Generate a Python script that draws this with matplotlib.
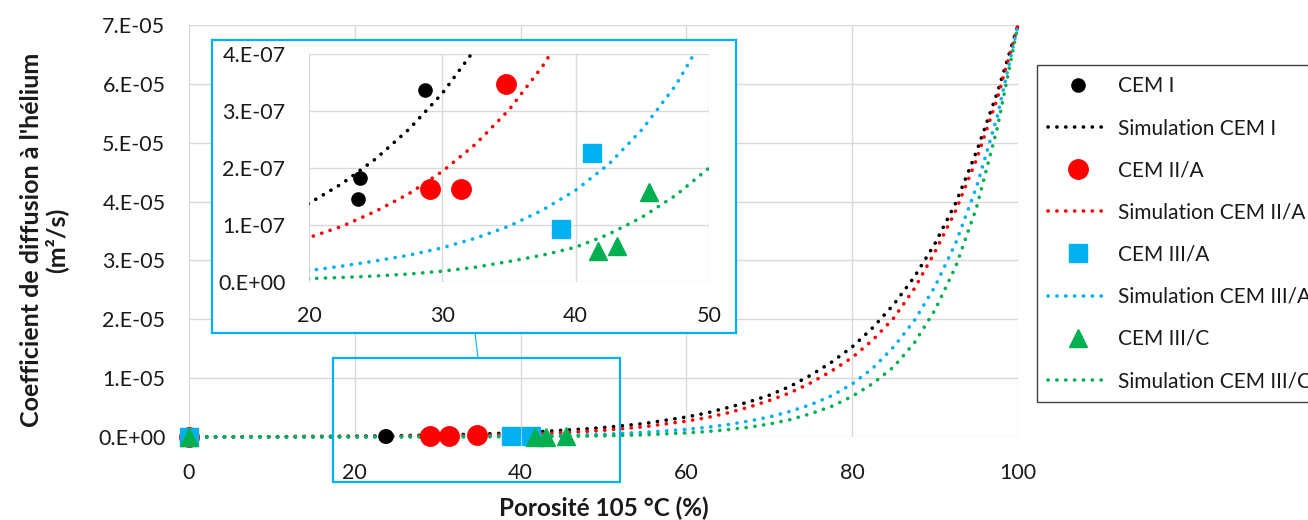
import matplotlib
matplotlib.use("Agg")
import matplotlib.pyplot as plt
from matplotlib.patches import Rectangle
from matplotlib.lines import Line2D

plt.rcParams['font.family'] = ['Lato', 'DejaVu Sans']

# Measured points (porosity %, D in m2/s)
cem1_x = [0, 23.7, 23.8, 28.7]
cem1_y = [0, 1.45e-7, 1.83e-7, 3.37e-7]
cem2a_x = [0, 29.1, 31.4, 34.8]
cem2a_y = [0, 1.63e-7, 1.63e-7, 3.47e-7]
cem3a_x = [0, 38.9, 41.2]
cem3a_y = [0, 0.93e-7, 2.27e-7]
cem3c_x = [0, 41.7, 43.1, 45.5]
cem3c_y = [0, 0.54e-7, 0.63e-7, 1.58e-7]

# Simulation curves (values in 1e-7 m2/s)
sim_x = [0, 10, 20, 22.5, 25, 27.5, 30, 32.5, 35, 37.5, 40, 42.5, 45, 47.5, 50, 55,
         60, 62.5, 65, 67.5, 70, 72.5, 75, 77.5, 80, 82.5, 85, 87.5, 90, 92.5, 95, 97.5, 100]
sim_cem1 = [0.25, 0.6, 1.38, 1.73, 2.16, 2.68, 3.31, 4.1, 5.05, 6.2, 7.7, 9.3, 11.3, 13.5, 16, 23,
            34, 41, 50, 59.5, 71, 86, 105, 127, 153, 186, 225, 272, 329, 398, 485, 585, 700]
sim_cem2a = [0.12, 0.31, 0.78, 0.98, 1.24, 1.55, 1.94, 2.42, 3.02, 3.78, 4.7, 5.85, 7.3, 9.1, 11.3, 17.5,
             27, 33, 41, 50.5, 62, 75, 92, 112, 135, 165, 202, 252, 315, 385, 472, 575, 700]
sim_cem3a = [0.03, 0.08, 0.2, 0.28, 0.37, 0.47, 0.6, 0.77, 0.98, 1.26, 1.61, 2.07, 2.68, 3.45, 4.45, 8.0,
             13, 16.5, 21, 27, 34, 43.5, 55, 70, 90, 117, 153, 198, 256, 330, 425, 545, 700]
sim_cem3c = [0.01, 0.025, 0.06, 0.08, 0.105, 0.14, 0.19, 0.26, 0.36, 0.47, 0.61, 0.84, 1.14, 1.52, 2.0, 3.8,
             7.0, 9.3, 12.5, 16.5, 22, 29.5, 39.5, 52, 69, 91, 119, 160, 216, 290, 390, 525, 700]

labels = ["CEM I", "Simulation CEM I", "CEM II/A", "Simulation CEM II/A",
          "CEM III/A", "Simulation CEM III/A", "CEM III/C", "Simulation CEM III/C"]

main_xticks = [0, 20, 40, 60, 80, 100]
main_yticks = [0, 1e-5, 2e-5, 3e-5, 4e-5, 5e-5, 6e-5, 7e-5]
main_ylabels = ["0.E+00", "1.E-05", "2.E-05", "3.E-05", "4.E-05", "5.E-05", "6.E-05", "7.E-05"]
inset_xticks = [20, 30, 40, 50]
inset_yticks = [0, 1e-7, 2e-7, 3e-7, 4e-7]
inset_ylabels = ["0.E+00", "1.E-07", "2.E-07", "3.E-07", "4.E-07"]

c_black = "#000000"
c_red = "#FF0000"
c_blue = "#00B0F0"
c_green = "#00B050"
grid_c = "#D9D9D9"
txt_c = "#1A1A1A"
dots = (0, (0.05, 2.4))
lw = 2.6

sims = [[v * 1e-7 for v in s] for s in (sim_cem1, sim_cem2a, sim_cem3a, sim_cem3c)]
series = [
    (cem1_x, cem1_y, sims[0], c_black, "o", 9.5),
    (cem2a_x, cem2a_y, sims[1], c_red, "o", 14),
    (cem3a_x, cem3a_y, sims[2], c_blue, "s", 13),
    (cem3c_x, cem3c_y, sims[3], c_green, "^", 12.5),
]

W, H = 1308, 520
fig = plt.figure(figsize=(13.08, 5.2), dpi=100)


def style_axes(ax, xticks, yticks, ylabels, xpad, ypad):
    for s in ax.spines.values():
        s.set_visible(False)
    ax.set_xticks(xticks)
    ax.set_yticks(yticks)
    ax.set_yticklabels(ylabels)
    ax.tick_params(length=0, labelsize=15.5, colors=txt_c)
    ax.tick_params(axis="x", pad=xpad)
    ax.tick_params(axis="y", pad=ypad)
    ax.grid(True, color=grid_c, linewidth=1.0)
    ax.set_axisbelow(True)


# Main axes
ax = fig.add_axes([189 / W, 1 - 437 / H, (1018 - 189) / W, (437 - 25) / H])
style_axes(ax, main_xticks, main_yticks, main_ylabels, 19, 17)
ax.set_xlim(0, 100)
ax.set_ylim(0, 7e-5)

handles = []
for mx, my, sy, col, mk, ms in series:
    ax.plot(sim_x, sy, color=col, linestyle=dots, linewidth=lw,
            dash_capstyle="round", clip_on=False, zorder=3)
    ax.plot(mx, my, linestyle="none", marker=mk, markersize=ms,
            color=col, clip_on=False, zorder=4)
    handles += [Line2D([], [], linestyle="none", marker=mk, markersize=ms, color=col),
                Line2D([], [], color=col, linestyle=dots, linewidth=lw, dash_capstyle="round")]

# Zoom box on the main chart + connector
fig.patches.append(Rectangle((333 / W, 1 - 482 / H), 287 / W, 124 / H, transform=fig.transFigure,
                             fill=False, edgecolor=c_blue, linewidth=1.6, zorder=5))
fig.lines.append(Line2D([475 / W, 478 / W], [1 - 333 / H, 1 - 358 / H], transform=fig.transFigure,
                        color=c_blue, linewidth=0.8))

# Inset frame
frame = fig.add_axes([212 / W, 1 - 332.5 / H, 523.5 / W, 293 / H])
frame.set_xticks([])
frame.set_yticks([])
frame.set_facecolor("white")
for s in frame.spines.values():
    s.set_color(c_blue)
    s.set_linewidth(1.6)

# Inset axes
axi = fig.add_axes([309 / W, 1 - 282 / H, 400 / W, 228 / H])
axi.set_facecolor("white")
style_axes(axi, inset_xticks, inset_yticks, inset_ylabels, 17, 17)
axi.set_xlim(20, 50)
axi.set_ylim(0, 4e-7)
for mx, my, sy, col, mk, ms in series:
    axi.plot(sim_x, sy, color=col, linestyle=dots, linewidth=lw, dash_capstyle="round", zorder=3)
    axi.plot(mx, my, linestyle="none", marker=mk, markersize=ms, color=col, zorder=4)

# Axis titles
fig.text(604 / W, 1 - 508 / H, "Porosité 105 °C (%)", ha="center", va="center",
         fontsize=17.5, fontweight="bold", color=txt_c)
fig.text(44 / W, 1 - 240 / H, "Coefficient de diffusion à l'hélium\n(m²/s)", ha="center", va="center",
         rotation=90, fontsize=18, fontweight="bold", color=txt_c, multialignment="center",
         linespacing=1.05)

# Legend
leg = fig.legend(handles, labels, loc="upper left", bbox_to_anchor=(1037 / W, 1 - 65 / H),
                 bbox_transform=fig.transFigure, borderaxespad=0, fontsize=15,
                 frameon=True, fancybox=False, framealpha=1, edgecolor="#404040",
                 labelspacing=1.06, handlelength=2.8, handletextpad=0.55, borderpad=0.55,
                 labelcolor=txt_c)
leg.get_frame().set_linewidth(1.0)

fig.savefig("out.png", dpi=100)
